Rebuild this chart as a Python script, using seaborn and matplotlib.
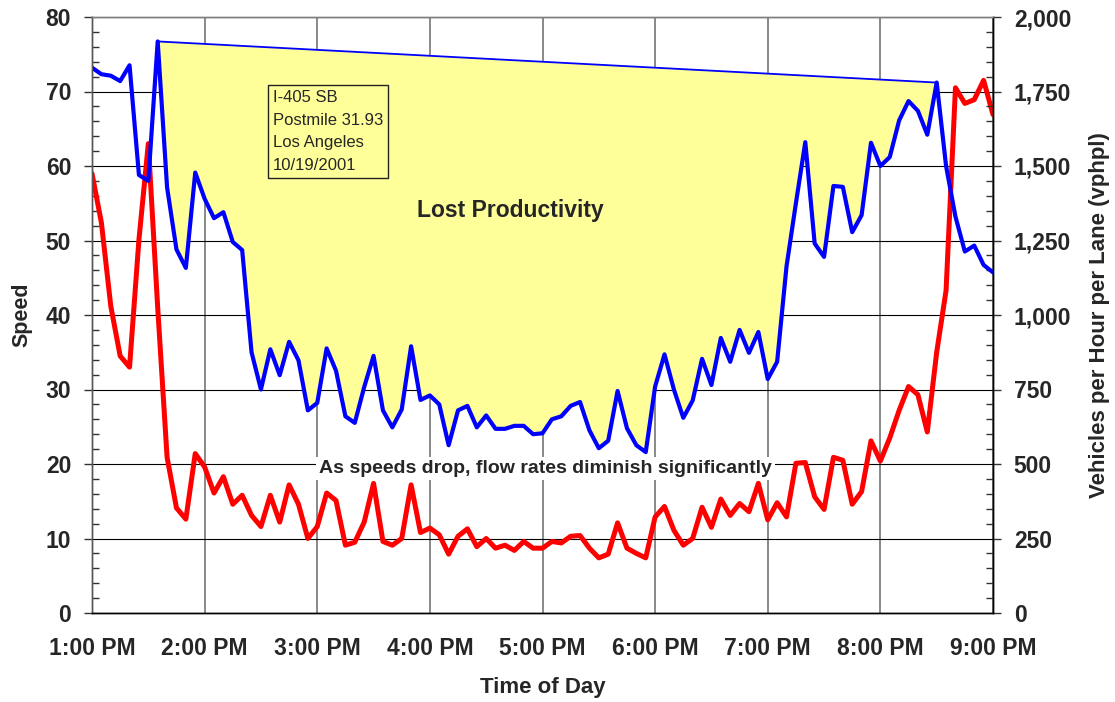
import matplotlib
matplotlib.use("Agg")
import matplotlib.pyplot as plt
from matplotlib.ticker import MultipleLocator, FuncFormatter, FixedLocator
import seaborn as sns
import numpy as np
import pandas as pd

# 5-minute samples, 1:00 PM to 9:00 PM
times = pd.date_range("2001-10-19 13:00", "2001-10-19 21:00", freq="5min")

# speed (mph) - red, left axis
speed = [
    59.0, 52.4, 41.2, 34.5, 33.0, 50.1, 63.0, 41.0, 20.9, 14.1, 12.6, 21.4,
    19.6, 16.1, 18.3, 14.6, 15.8, 13.1, 11.6, 15.8, 12.2, 17.2, 14.6, 10.0,
    11.6, 16.1, 15.1, 9.1, 9.5, 12.2, 17.4, 9.6, 9.1, 10.0, 17.2, 10.8,
    11.4, 10.5, 7.9, 10.3, 11.3, 8.9, 10.0, 8.7, 9.1, 8.4, 9.6, 8.7,
    8.7, 9.6, 9.4, 10.3, 10.4, 8.7, 7.4, 7.9, 12.1, 8.7, 8.0, 7.4,
    12.9, 14.3, 11.1, 9.1, 10.0, 14.2, 11.5, 15.3, 13.1, 14.7, 13.6, 17.4,
    12.5, 14.8, 12.9, 20.1, 20.2, 15.6, 13.9, 20.9, 20.5, 14.6, 16.3, 23.1,
    20.4, 23.5, 27.2, 30.4, 29.3, 24.3, 35.0, 43.3, 70.5, 68.4, 68.9, 71.5,
    66.9,
]

# flow (vphpl) - blue, right axis
flow = [
    1830, 1808, 1803, 1785, 1838, 1470, 1450, 1918, 1428, 1220, 1158, 1478,
    1390, 1325, 1345, 1245, 1218, 875, 750, 885, 798, 910, 848, 680,
    705, 888, 813, 660, 638, 758, 863, 680, 623, 683, 895, 715,
    730, 700, 563, 680, 695, 623, 663, 618, 618, 628, 628, 600,
    603, 650, 660, 695, 708, 613, 553, 578, 745, 620, 563, 540,
    760, 868, 750, 655, 713, 853, 765, 923, 843, 950, 873, 943,
    785, 843, 1163, 1375, 1580, 1240, 1195, 1433, 1430, 1278, 1335, 1578,
    1500, 1530, 1653, 1718, 1685, 1605, 1780, 1500, 1330, 1213, 1233, 1168,
    1143,
]

hour_ticks = [13, 14, 15, 16, 17, 18, 19, 20, 21]
hour_labels = ["1:00 PM", "2:00 PM", "3:00 PM", "4:00 PM", "5:00 PM",
               "6:00 PM", "7:00 PM", "8:00 PM", "9:00 PM"]

info_text = "I-405 SB\nPostmile 31.93\nLos Angeles\n10/19/2001"

df = pd.DataFrame({
    "hour": times.hour + times.minute / 60.0,
    "speed": speed,
    "flow": flow,
})

sns.set_style("white")
plt.rcParams["font.family"] = ["Liberation Sans", "DejaVu Sans"]

fig = plt.figure(figsize=(11.15, 7.02), dpi=100)
ax = fig.add_axes([92 / 1115, 1 - 613 / 702, 901 / 1115, 596 / 702])
ax2 = ax.twinx()

# speed line
sns.lineplot(data=df, x="hour", y="speed", ax=ax, color="#FF0000",
             linewidth=3.6, legend=False)

# lost productivity area: from flow peak at 1:35 to 8:30
peak_a = int(np.argmax(df["flow"].values[:20]))
peak_b = 90
seg = df.iloc[peak_a:peak_b + 1]
ax2.fill(seg["hour"], seg["flow"], facecolor="#FFFF99", edgecolor="#0000FF",
         linewidth=1.3, zorder=1)

sns.lineplot(data=df, x="hour", y="flow", ax=ax2, color="#0000FF",
             linewidth=3.0, legend=False, zorder=2)

# axes limits and ticks
ax.set_xlim(13, 21)
ax.set_ylim(0, 80)
ax2.set_ylim(0, 2000)

ax.xaxis.set_major_locator(FixedLocator(hour_ticks))
ax.set_xticklabels(hour_labels)
ax.xaxis.set_minor_locator(MultipleLocator(0.25))
ax.yaxis.set_major_locator(MultipleLocator(10))
ax.yaxis.set_minor_locator(MultipleLocator(2))
ax2.yaxis.set_major_locator(MultipleLocator(250))
ax2.yaxis.set_minor_locator(MultipleLocator(50))
ax2.yaxis.set_major_formatter(FuncFormatter(lambda v, p: f"{int(v):,}"))

for a in (ax, ax2):
    a.tick_params(which="major", direction="out", length=6, width=1,
                  labelsize=16.5, color="#333333")
    a.tick_params(which="minor", direction="in", length=5, width=1,
                  color="#333333")
    for lab in a.get_xticklabels() + a.get_yticklabels():
        lab.set_fontweight("bold")
ax.tick_params(axis="x", which="major", pad=11)
ax.tick_params(axis="y", which="major", pad=9)
ax2.tick_params(axis="y", which="major", pad=9)
ax2.tick_params(axis="x", which="both", bottom=False, labelbottom=False)

# gridlines (under the yellow area)
ax.grid(False)
ax2.grid(False)
ax.yaxis.grid(True, color="black", linewidth=0.8)
ax.xaxis.grid(True, color="#808080", linewidth=1.3)

for a in (ax, ax2):
    a.spines["left"].set_color("#555555")
    a.spines["bottom"].set_color("black")
    a.spines["top"].set_color("#808080")
    a.spines["right"].set_color("black")
    for s in a.spines.values():
        s.set_linewidth(1.0)

ax.set_xlabel("Time of Day", fontsize=16, fontweight="bold")
ax.set_ylabel("Speed", fontsize=15.5, fontweight="bold")
ax2.set_ylabel("Vehicles per Hour per Lane (vphpl)", fontsize=16,
               fontweight="bold")
ax.xaxis.set_label_coords(0.5, -0.107)
ax.yaxis.set_label_coords(-0.066, 0.5)
ax2.yaxis.set_label_coords(1.106, 0.5)

# annotations
ax2.text(0.201, 0.877, info_text, transform=ax.transAxes, fontsize=12,
         ha="left", va="top", linespacing=1.62, zorder=5,
         bbox=dict(boxstyle="square,pad=0.3", facecolor="#FFFF99",
                   edgecolor="#222222", linewidth=1))
ax2.text(0.464, 0.675, "Lost Productivity", transform=ax.transAxes,
         fontsize=16.5, fontweight="bold", ha="center", va="center", zorder=5)
ax2.text(0.503, 0.243, "As speeds drop, flow rates diminish significantly",
         transform=ax.transAxes, fontsize=14, fontweight="bold",
         ha="center", va="center", zorder=5,
         bbox=dict(boxstyle="square,pad=0.15", facecolor="white",
                   edgecolor="none"))

fig.savefig("out.png", dpi=100)
